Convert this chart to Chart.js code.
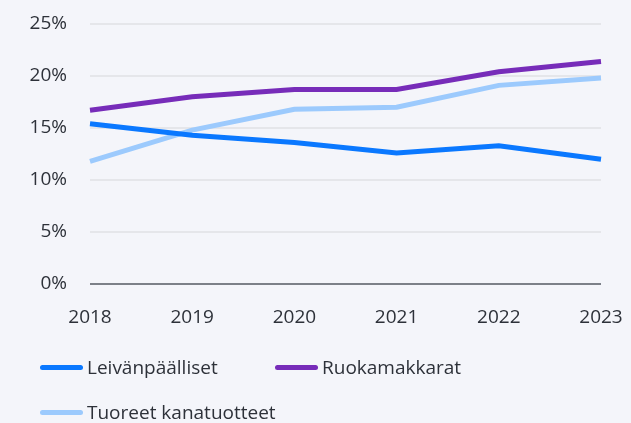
<!DOCTYPE html>
<html>
<head>
<meta charset="utf-8">
<script src="https://cdn.jsdelivr.net/npm/chart.js@4/dist/chart.umd.min.js"></script>
<style>
  html, body { margin: 0; padding: 0; background: #f4f5fa; }
  #wrap { position: relative; width: 631px; height: 423px; }
  #legend { position: absolute; left: 40px; top: 354px; width: 560px; font-family: 'Open Sans', sans-serif; font-size: 19px; color: #2d3139; }
  .item { position: absolute; display: flex; align-items: center; white-space: nowrap; }
  .swatch { width: 43px; height: 5px; border-radius: 3px; margin-right: 4px; }
</style>
</head>
<body>
<div id="wrap">
  <canvas id="chart" width="631" height="423"></canvas>
  <div id="legend"></div>
</div>
<script>
const years = ['2018', '2019', '2020', '2021', '2022', '2023'];

const seriesNames  = ['Leivänpäälliset', 'Ruokamakkarat', 'Tuoreet kanatuotteet'];
const seriesColors = ['#0a78ff', '#772cb9', '#9ccafd'];

const leivanpaalliset = [15.4, 14.3, 13.6, 12.6, 13.3, 12.0];
const ruokamakkarat   = [16.7, 18.0, 18.7, 18.7, 20.4, 21.4];
const kanatuotteet    = [11.8, 14.8, 16.8, 17.0, 19.1, 19.8];

const yTicks = [0, 5, 10, 15, 20, 25];

const allValues = [leivanpaalliset, ruokamakkarat, kanatuotteet];

const textColor = '#2d3139';
const tickFont  = { family: 'Open Sans', size: 19 };

const datasets = allValues.map((vals, i) => ({
    label: seriesNames[i],
    data: vals,
    borderColor: seriesColors[i],
    backgroundColor: seriesColors[i],
    borderWidth: 5,
    pointRadius: 0,
    tension: 0,
    order: i === 2 ? 3 : i
}));

new Chart(document.getElementById('chart').getContext('2d'), {
    type: 'line',
    data: { labels: years, datasets },
    options: {
        responsive: false,
        animation: false,
        layout: { padding: { left: 30, right: 30, top: 24, bottom: 95 } },
        plugins: { legend: { display: false }, tooltip: { enabled: false } },
        scales: {
            x: {
                offset: false,
                grid: { display: false, drawTicks: false },
                border: { display: false },
                ticks: { color: textColor, padding: 22, font: tickFont, maxRotation: 0, autoSkip: false },
                afterFit: s => { s.height = 44; s.paddingLeft = 0; s.paddingRight = 0; }
            },
            y: {
                min: yTicks[0],
                max: yTicks[yTicks.length - 1],
                afterBuildTicks: axis => { axis.ticks = yTicks.map(v => ({ value: v })); },
                grid: {
                    drawTicks: false,
                    lineWidth: 2,
                    color: ctx => ctx.tick && ctx.tick.value === 0 ? '#7c8088' : '#e5e6ea'
                },
                border: { display: false },
                ticks: {
                    color: textColor,
                    padding: 23,
                    font: tickFont,
                    callback: v => v + '%'
                },
                afterFit: s => { s.width = 60; s.paddingTop = 0; s.paddingBottom = 0; }
            }
        }
    }
});

// legend in html, two columns
const legend = document.getElementById('legend');
const positions = [[0, 0], [235, 0], [0, 45]];
seriesNames.forEach((name, i) => {
    const el = document.createElement('div');
    el.className = 'item';
    el.style.left = positions[i][0] + 'px';
    el.style.top  = positions[i][1] + 'px';
    const sw = document.createElement('span');
    sw.className = 'swatch';
    sw.style.background = seriesColors[i];
    const tx = document.createElement('span');
    tx.textContent = name;
    el.appendChild(sw);
    el.appendChild(tx);
    legend.appendChild(el);
});
</script>
</body>
</html>
